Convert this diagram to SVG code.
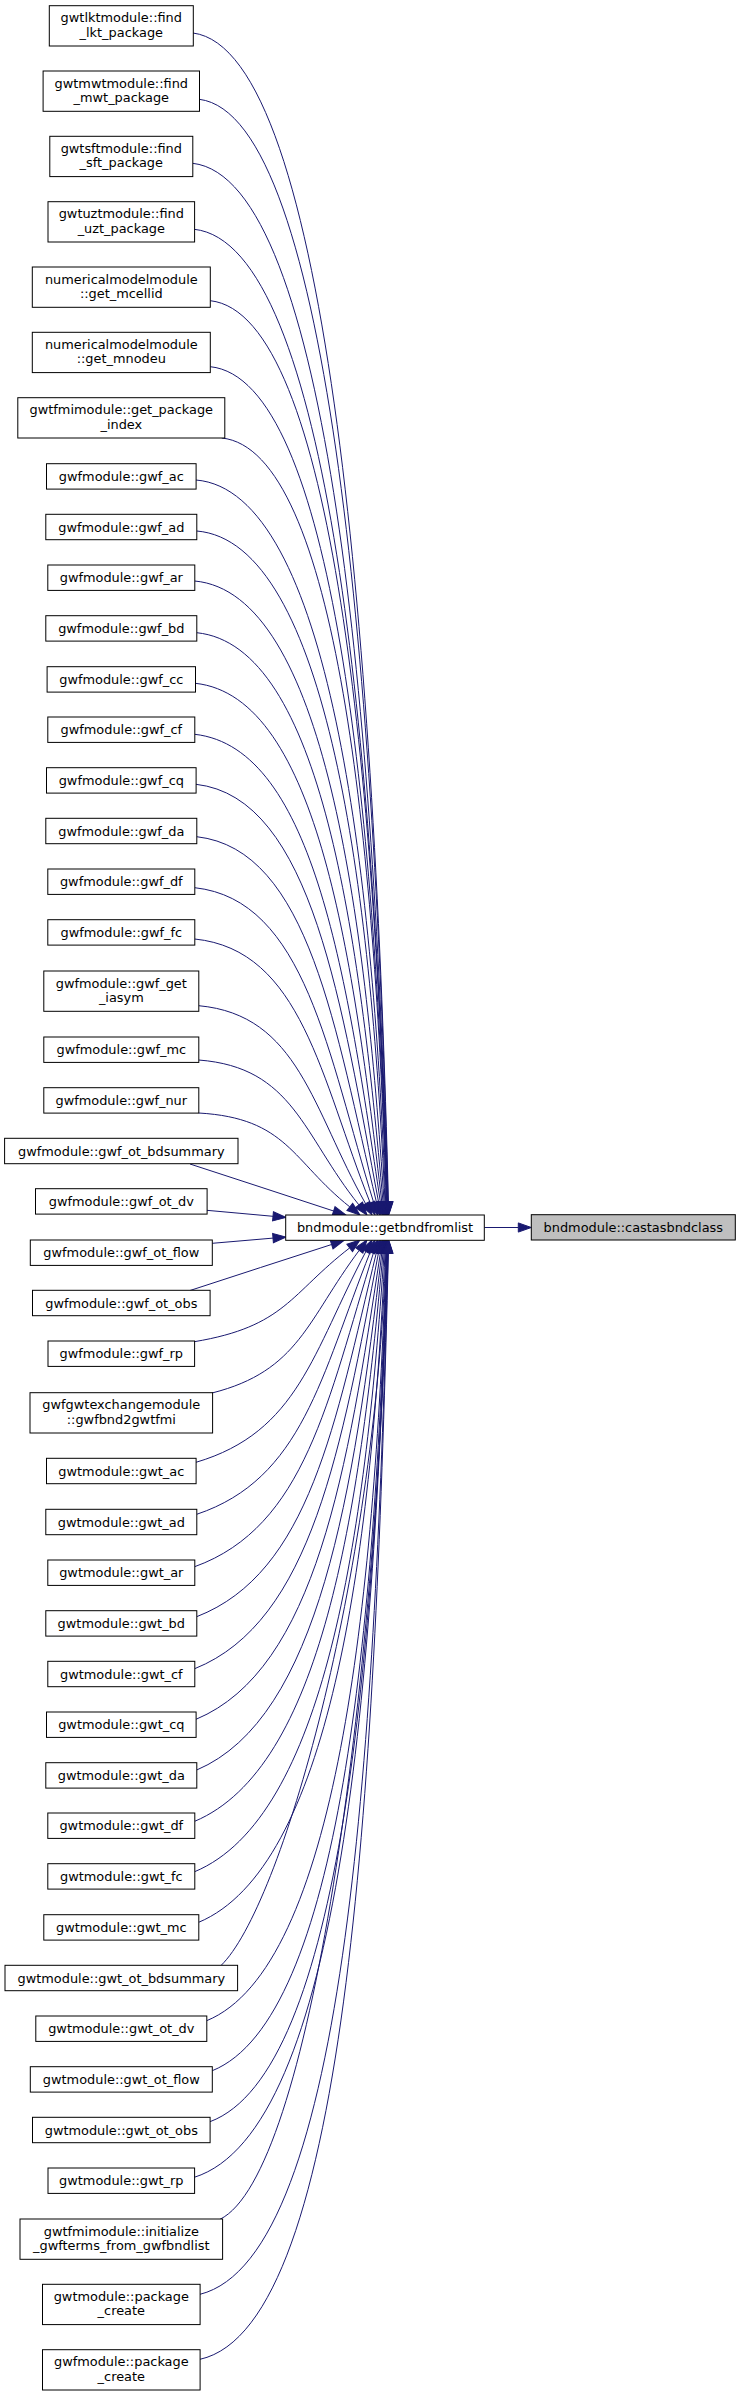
<svg xmlns="http://www.w3.org/2000/svg" width="740" height="2396" viewBox="0 0 740 2396">
<style>
.node rect{fill:#ffffff;stroke:#000000;stroke-width:1}
.node text{font-family:"DejaVu Sans","Liberation Sans",sans-serif;font-size:12.9px;text-anchor:middle;fill:#000000}
#edges path{fill:none;stroke:#191970;stroke-width:1;marker-end:url(#ah)}
</style>
<defs>
<marker id="ah" markerUnits="userSpaceOnUse" markerWidth="13" markerHeight="10" refX="0" refY="5" orient="auto" viewBox="0 0 13 10" overflow="visible"><path d="M0,0.4 L13,5 L0,9.6 Z" fill="#191970" stroke="#191970" stroke-width="1"/></marker>
</defs>
<rect x="0" y="0" width="740" height="2396" fill="#ffffff"/>
<g id="edges">
<path d="M193,33 C330,50.7 375.2,670.1 388.4,1202"/>
<path d="M199.3,99.3 C331.7,116 375.3,700 388.1,1202"/>
<path d="M192.7,163.3 C329.5,179.1 374.5,728.7 387.7,1202"/>
<path d="M194.3,229.3 C329.8,244.1 374.3,758.4 387.4,1202"/>
<path d="M210.3,300.7 C334.3,314.4 375.1,790.6 387.1,1202"/>
<path d="M210.3,366.7 C334.1,379.4 374.8,820.3 386.7,1202"/>
<path d="M221.7,438 C337.2,449.7 375.2,852.3 386.3,1202"/>
<path d="M196,480 C329.1,491 372.9,871.3 385.7,1202"/>
<path d="M196.7,531 C328.2,541.9 370.8,894.2 385,1202"/>
<path d="M194.7,581 C324.8,593 365.1,916.7 384.1,1202"/>
<path d="M196.7,632.7 C322.4,645.5 359.6,940 383,1202"/>
<path d="M195.3,683.3 C319,696.5 353.7,962.8 381.8,1202.1"/>
<path d="M194.7,734.3 C315.7,747.7 347.7,985.9 380.4,1202.2"/>
<path d="M196,784.3 C313,797.5 341.8,1008.4 378.6,1202.2"/>
<path d="M196.7,836.7 C310,849.5 335.5,1032.2 376.5,1202.4"/>
<path d="M194.7,887.7 C305.6,899.7 328.1,1055.3 373.7,1202.6"/>
<path d="M194.7,939 C301.8,950 320.8,1078.7 370.2,1202.9"/>
<path d="M198.7,1005.7 C298.7,1014.8 312.4,1109.5 365.6,1203.7"/>
<path d="M198.7,1060 C293.6,1067.3 302.8,1135.1 358.9,1204.9"/>
<path d="M198.7,1113 C287.5,1118.1 291.9,1161 349.8,1206.9"/>
<path d="M190,1164 C238,1179.7 286,1195.3 333.6,1211"/>
<path d="M206.7,1210.3 C229,1212.3 251,1214.3 273,1216.3"/>
<path d="M212.3,1243.3 C232.6,1241.6 252.8,1239.8 273,1238.1"/>
<path d="M190,1290.5 C237,1275.2 284,1259.8 331.6,1244.5"/>
<path d="M194.3,1341.7 C285.5,1326.5 290.2,1293.7 349.7,1247.9"/>
<path d="M212,1393 C299.3,1371 307.4,1319.3 359.2,1250.4"/>
<path d="M196,1462.3 C298.2,1432.2 313,1351.5 365.9,1251.5"/>
<path d="M196.7,1514.3 C302.5,1478.9 321.2,1375.5 370.2,1252.1"/>
<path d="M194.7,1566.7 C305.6,1526.6 328,1399.4 373.6,1252.4"/>
<path d="M196.7,1616.7 C309.9,1572.7 335.3,1422.1 376.4,1252.6"/>
<path d="M194.7,1668.7 C312.5,1621.3 341.3,1445.7 378.5,1252.8"/>
<path d="M196,1719.3 C316.1,1669.2 347.8,1468.6 380.4,1252.9"/>
<path d="M196.7,1770 C319.4,1717.8 353.7,1491.4 381.8,1252.9"/>
<path d="M194.7,1821.3 C321.7,1767.7 359.2,1514.6 383,1253"/>
<path d="M194.7,1871.7 C324.7,1817.2 364.9,1537.3 384.1,1253"/>
<path d="M198.7,1922.3 C328.7,1867.6 370.8,1560 385,1253"/>
<path d="M221,1965.5 C281,1907.5 374.6,1579.5 385.8,1253"/>
<path d="M206.7,2020.7 C336.3,1967.4 374.1,1604.3 386.3,1253"/>
<path d="M212.3,2070.7 C340.4,2018.9 374.9,1626.8 386.7,1253"/>
<path d="M210,2121.7 C342.3,2072.1 375.1,1649.8 387.1,1253"/>
<path d="M194.3,2177.3 C341.2,2130.9 374.3,1674.8 387.4,1253"/>
<path d="M220,2219.3 C310,2175 376.4,1693.7 387.8,1253"/>
<path d="M200,2294.3 C348.6,2256.9 375.4,1727.4 388.1,1253"/>
<path d="M200,2359.3 C351,2325.7 375.7,1756.7 388.4,1253"/>
<path d="M484.3,1227.5 L518.3,1227.5"/>
</g>
<g id="n_getbndfromlist" class="node"><rect x="285.7" y="1215" width="198.6" height="25.3"/><text x="385" y="1232">bndmodule::getbndfromlist</text></g>
<g id="n_castasbndclass" class="node"><rect x="531.3" y="1214.7" width="204" height="25.3" style="fill:#bfbfbf"/><text x="633.3" y="1232">bndmodule::castasbndclass</text></g>
<g id="n1" class="node"><rect x="49.3" y="5.7" width="144" height="40.3"/><text x="121.3" y="22.2">gwtlktmodule::find</text><text x="121.3" y="36.7">_lkt_package</text></g>
<g id="n2" class="node"><rect x="43.1" y="71" width="156.4" height="40.3"/><text x="121.3" y="87.5">gwtmwtmodule::find</text><text x="121.3" y="102">_mwt_package</text></g>
<g id="n3" class="node"><rect x="49.8" y="136.3" width="143" height="40.3"/><text x="121.3" y="152.8">gwtsftmodule::find</text><text x="121.3" y="167.3">_sft_package</text></g>
<g id="n4" class="node"><rect x="48" y="201.7" width="146.6" height="40.3"/><text x="121.3" y="218.2">gwtuztmodule::find</text><text x="121.3" y="232.7">_uzt_package</text></g>
<g id="n5" class="node"><rect x="32.3" y="267" width="178" height="40.3"/><text x="121.3" y="283.5">numericalmodelmodule</text><text x="121.3" y="298">::get_mcellid</text></g>
<g id="n6" class="node"><rect x="32.3" y="332.3" width="178" height="40.3"/><text x="121.3" y="348.8">numericalmodelmodule</text><text x="121.3" y="363.3">::get_mnodeu</text></g>
<g id="n7" class="node"><rect x="17.8" y="397.7" width="207" height="40.3"/><text x="121.3" y="414.2">gwtfmimodule::get_package</text><text x="121.3" y="428.7">_index</text></g>
<g id="n8" class="node"><rect x="46.5" y="463.7" width="149.6" height="25.4"/><text x="121.3" y="480.9">gwfmodule::gwf_ac</text></g>
<g id="n9" class="node"><rect x="45.8" y="514.3" width="151" height="25.4"/><text x="121.3" y="531.5">gwfmodule::gwf_ad</text></g>
<g id="n10" class="node"><rect x="47.8" y="565" width="147" height="25.4"/><text x="121.3" y="582.2">gwfmodule::gwf_ar</text></g>
<g id="n11" class="node"><rect x="45.8" y="615.7" width="151" height="25.4"/><text x="121.3" y="632.9">gwfmodule::gwf_bd</text></g>
<g id="n12" class="node"><rect x="47.1" y="666.7" width="148.4" height="25.4"/><text x="121.3" y="683.9">gwfmodule::gwf_cc</text></g>
<g id="n13" class="node"><rect x="47.8" y="717" width="147" height="25.4"/><text x="121.3" y="734.2">gwfmodule::gwf_cf</text></g>
<g id="n14" class="node"><rect x="46.5" y="767.7" width="149.6" height="25.4"/><text x="121.3" y="784.9">gwfmodule::gwf_cq</text></g>
<g id="n15" class="node"><rect x="45.8" y="818.3" width="151" height="25.4"/><text x="121.3" y="835.5">gwfmodule::gwf_da</text></g>
<g id="n16" class="node"><rect x="47.8" y="869" width="147" height="25.4"/><text x="121.3" y="886.2">gwfmodule::gwf_df</text></g>
<g id="n17" class="node"><rect x="47.8" y="919.7" width="147" height="25.4"/><text x="121.3" y="936.9">gwfmodule::gwf_fc</text></g>
<g id="n18" class="node"><rect x="43.8" y="971" width="155" height="40.3"/><text x="121.3" y="987.5">gwfmodule::gwf_get</text><text x="121.3" y="1002">_iasym</text></g>
<g id="n19" class="node"><rect x="43.8" y="1037" width="155" height="25.4"/><text x="121.3" y="1054.2">gwfmodule::gwf_mc</text></g>
<g id="n20" class="node"><rect x="43.8" y="1087.7" width="155" height="25.4"/><text x="121.3" y="1104.9">gwfmodule::gwf_nur</text></g>
<g id="n21" class="node"><rect x="4.6" y="1138.3" width="233.4" height="25.4"/><text x="121.3" y="1155.5">gwfmodule::gwf_ot_bdsummary</text></g>
<g id="n22" class="node"><rect x="35.5" y="1188.7" width="171.6" height="25.4"/><text x="121.3" y="1205.9">gwfmodule::gwf_ot_dv</text></g>
<g id="n23" class="node"><rect x="30.3" y="1240" width="182" height="25.4"/><text x="121.3" y="1257.2">gwfmodule::gwf_ot_flow</text></g>
<g id="n24" class="node"><rect x="32.5" y="1290.3" width="177.6" height="25.4"/><text x="121.3" y="1307.5">gwfmodule::gwf_ot_obs</text></g>
<g id="n25" class="node"><rect x="48" y="1341" width="146.6" height="25.4"/><text x="121.3" y="1358.2">gwfmodule::gwf_rp</text></g>
<g id="n26" class="node"><rect x="30" y="1392.7" width="182.6" height="40.3"/><text x="121.3" y="1409.2">gwfgwtexchangemodule</text><text x="121.3" y="1423.7">::gwfbnd2gwtfmi</text></g>
<g id="n27" class="node"><rect x="46.5" y="1458.3" width="149.6" height="25.4"/><text x="121.3" y="1475.5">gwtmodule::gwt_ac</text></g>
<g id="n28" class="node"><rect x="45.8" y="1509.3" width="151" height="25.4"/><text x="121.3" y="1526.5">gwtmodule::gwt_ad</text></g>
<g id="n29" class="node"><rect x="47.8" y="1560" width="147" height="25.4"/><text x="121.3" y="1577.2">gwtmodule::gwt_ar</text></g>
<g id="n30" class="node"><rect x="45.8" y="1610.7" width="151" height="25.4"/><text x="121.3" y="1627.9">gwtmodule::gwt_bd</text></g>
<g id="n31" class="node"><rect x="47.8" y="1661.3" width="147" height="25.4"/><text x="121.3" y="1678.5">gwtmodule::gwt_cf</text></g>
<g id="n32" class="node"><rect x="46.5" y="1712" width="149.6" height="25.4"/><text x="121.3" y="1729.2">gwtmodule::gwt_cq</text></g>
<g id="n33" class="node"><rect x="45.8" y="1762.7" width="151" height="25.4"/><text x="121.3" y="1779.9">gwtmodule::gwt_da</text></g>
<g id="n34" class="node"><rect x="47.8" y="1813" width="147" height="25.4"/><text x="121.3" y="1830.2">gwtmodule::gwt_df</text></g>
<g id="n35" class="node"><rect x="47.8" y="1863.7" width="147" height="25.4"/><text x="121.3" y="1880.9">gwtmodule::gwt_fc</text></g>
<g id="n36" class="node"><rect x="43.8" y="1914.7" width="155" height="25.4"/><text x="121.3" y="1931.9">gwtmodule::gwt_mc</text></g>
<g id="n37" class="node"><rect x="5" y="1965.3" width="232.6" height="25.4"/><text x="121.3" y="1982.5">gwtmodule::gwt_ot_bdsummary</text></g>
<g id="n38" class="node"><rect x="35.8" y="2016" width="171" height="25.4"/><text x="121.3" y="2033.2">gwtmodule::gwt_ot_dv</text></g>
<g id="n39" class="node"><rect x="30.3" y="2066.7" width="182" height="25.4"/><text x="121.3" y="2083.9">gwtmodule::gwt_ot_flow</text></g>
<g id="n40" class="node"><rect x="32.5" y="2117.3" width="177.6" height="25.4"/><text x="121.3" y="2134.5">gwtmodule::gwt_ot_obs</text></g>
<g id="n41" class="node"><rect x="48" y="2168" width="146.6" height="25.4"/><text x="121.3" y="2185.2">gwtmodule::gwt_rp</text></g>
<g id="n42" class="node"><rect x="20" y="2219" width="202.6" height="40.3"/><text x="121.3" y="2235.5">gwtfmimodule::initialize</text><text x="121.3" y="2250">_gwfterms_from_gwfbndlist</text></g>
<g id="n43" class="node"><rect x="42.5" y="2284.3" width="157.6" height="40.3"/><text x="121.3" y="2300.8">gwtmodule::package</text><text x="121.3" y="2315.3">_create</text></g>
<g id="n44" class="node"><rect x="42.5" y="2349.7" width="157.6" height="40.3"/><text x="121.3" y="2366.2">gwfmodule::package</text><text x="121.3" y="2380.7">_create</text></g>
</svg>
